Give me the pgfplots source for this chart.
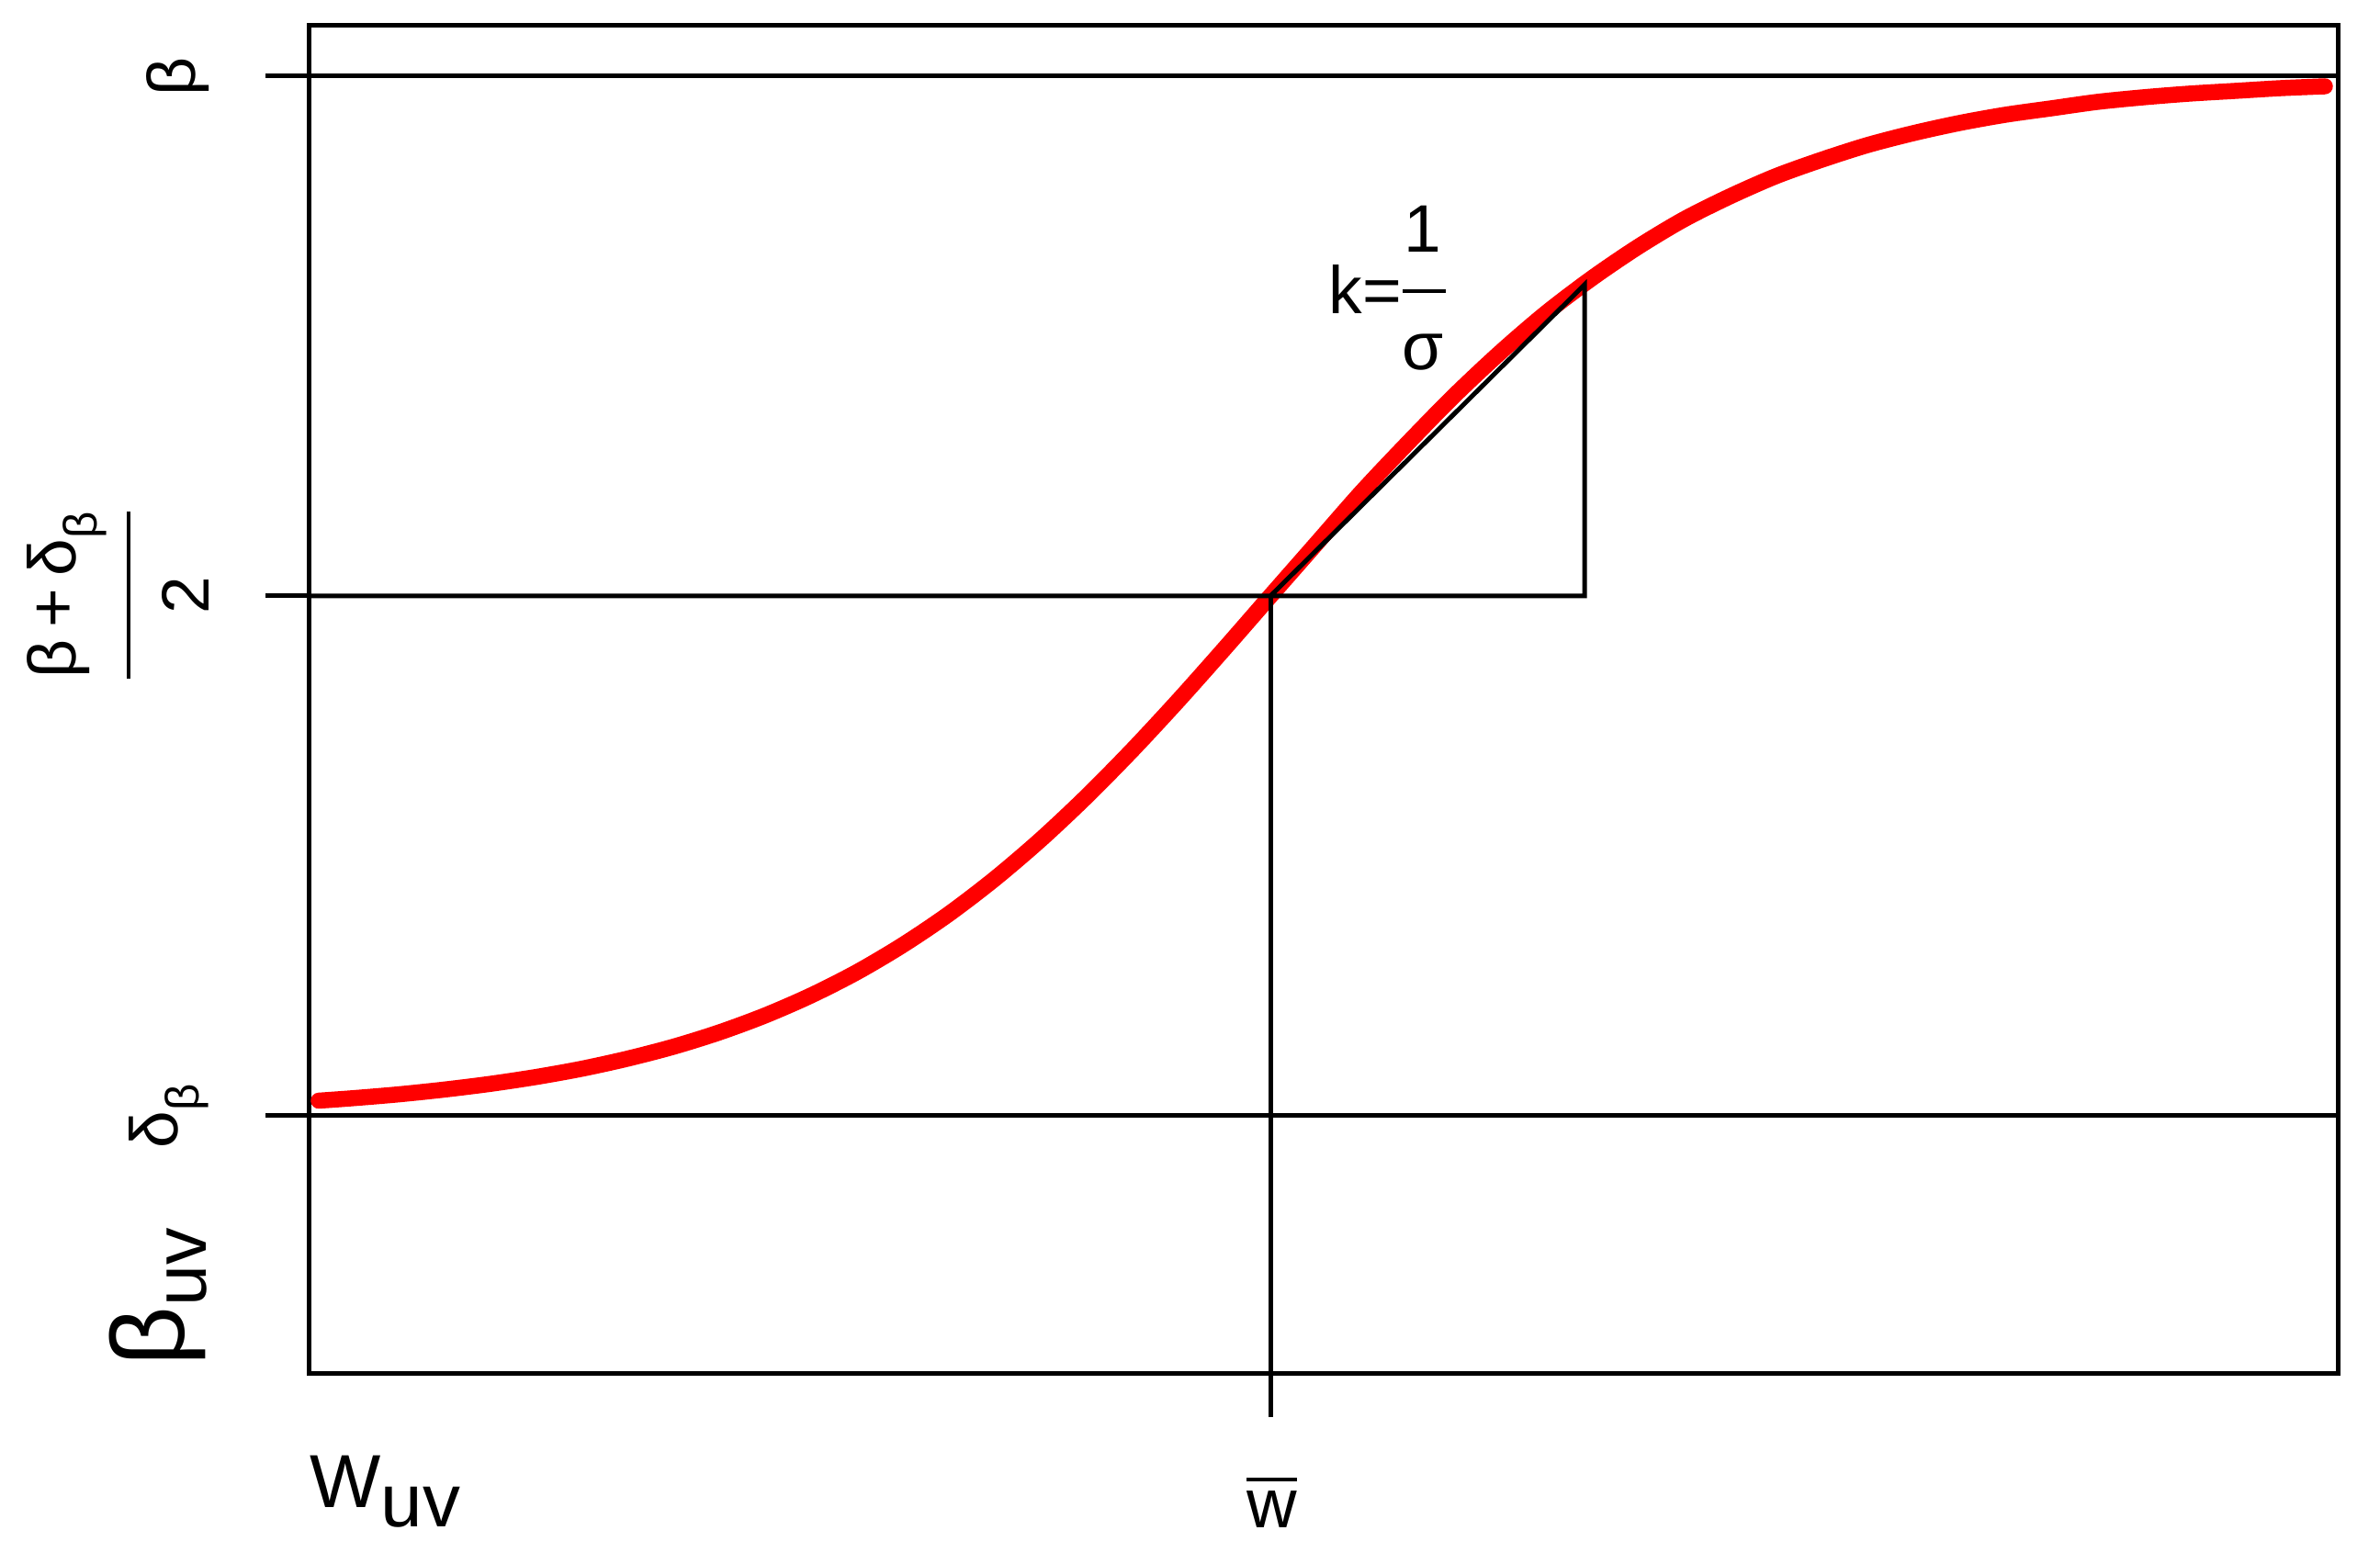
\documentclass[border=0pt]{standalone}
\usepackage{pgfplots}
\pgfplotsset{compat=1.18}
\usepackage{fontspec}
\setmainfont{Liberation Sans}
\newcommand{\fs}[1]{\fontsize{#1}{#1}\selectfont}
\begin{document}
\begin{tikzpicture}
\useasboundingbox (0,0) rectangle (25.91cm,17.02cm);
\begin{axis}[
  at={(3.37cm,2.07cm)}, anchor=south west,
  scale only axis, width=22.08cm, height=14.67cm,
  xmin=337, xmax=2545, ymin=-280, ymax=1187,
  axis line style={line width=0.5mm},
  xtick={1383}, ytick={0,566,1132},
  xticklabels={}, yticklabels={},
  tick align=outside, major tick length=4.8mm,
  tick style={line width=0.5mm, black},
  xtick pos=left, ytick pos=left,
  clip=false,
]
\addplot[red, line width=1.75mm, line cap=round, line join=round, smooth] coordinates {
(347,16.5) (383,19.1) (433,23.3) (483,28.5) (533,34.7) (583,42.2) (633,51.2)
(683,62.2) (733,75.2) (783,90.8) (833,109.3) (883,131.1) (933,156.5) (983,186.1)
(1033,219.8) (1083,258.1) (1133,300.8) (1183,347.8) (1233,398.6) (1283,452.5)
(1333,508.7) (1383,566) (1433,623) (1483,680) (1533,733) (1583,784) (1633,831)
(1683,874) (1733,912) (1783,946) (1833,976) (1883,1001) (1933,1023) (1983,1041)
(2033,1057) (2083,1070) (2133,1081) (2183,1090) (2233,1097) (2283,1104)
(2333,1109) (2383,1113) (2433,1116) (2483,1119) (2531,1121)};
\addplot[black, line width=0.5mm] coordinates {(337,1132) (2545,1132)};
\addplot[black, line width=0.5mm] coordinates {(337,0) (2545,0)};
\addplot[black, line width=0.5mm, line join=miter] coordinates {(337,566) (1725,566) (1725,905) (1383,566)};
\addplot[black, line width=0.5mm] coordinates {(1383,566) (1383,-280)};

% y tick labels
\node[rotate=90, anchor=south, inner sep=0pt, font=\fs{20.8}] at (axis cs:228,1132) {β};
\node[rotate=90, anchor=south, inner sep=0pt, font=\fs{20.8}] at (axis cs:228,567) {2};
\draw[line width=0.45mm] (axis cs:140,658) -- (axis cs:140,476);
\node[rotate=90, anchor=south, inner sep=0pt, font=\fs{20.8}] at (axis cs:117,567) {β\hspace{1.3mm}+\hspace{1.3mm}δ\raisebox{-2.3mm}{\fs{14.5}β}};
\node[rotate=90, anchor=south, inner sep=0pt, font=\fs{20.8}] at (axis cs:228,0) {δ\raisebox{-2.3mm}{\fs{14.5}β}};
% y label
\node[rotate=90, anchor=south west, inner sep=0pt] at (axis cs:226,-273) {{\fs{32}β}\raisebox{-2.4mm}{\fs{23}uv}};
% x label
\node[anchor=base west, inner sep=0pt, font=\fs{23.3}] at (axis cs:337,-426.5) {W\raisebox{-2.1mm}{uv}};
% x tick label
\node[anchor=base, inner sep=0pt, font=\fs{21.5}] at (axis cs:1384.5,-448) {\setbox0\hbox{w}\vbox{\hrule width \wd0 height 0.4mm\kern1mm\box0}};
% annotation
\node[anchor=base west, inner sep=0pt, font=\fs{20.8}] at (axis cs:1446,873) {k=};
\draw[line width=0.4mm] (axis cs:1527,898) -- (axis cs:1574,898);
\node[anchor=base, inner sep=0pt, font=\fs{20.8}] at (axis cs:1549,940) {1};
\node[anchor=base, inner sep=0pt, font=\fs{20.8}] at (axis cs:1549,812) {σ};
\end{axis}
\end{tikzpicture}
\end{document}
